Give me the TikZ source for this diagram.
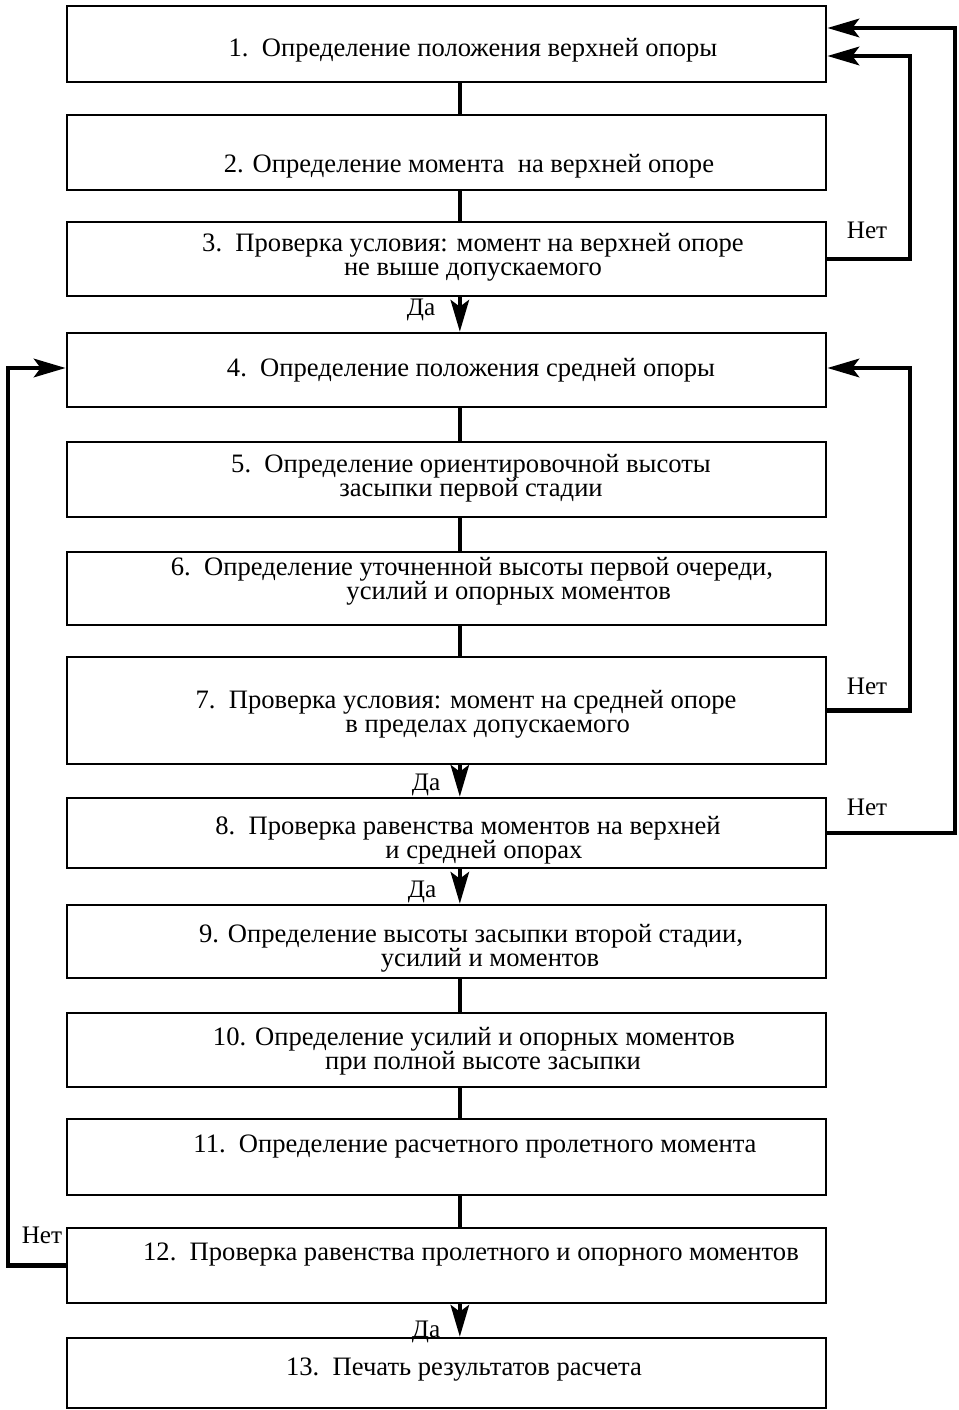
\documentclass[tikz,border=0pt]{standalone}
\usepackage{fontspec}
\setmainfont{Liberation Serif}
\usetikzlibrary{arrows.meta}

\begin{document}
\begin{tikzpicture}[line join=miter,x=0.03cm,y=-0.03cm,
  box/.style={draw,line width=2.2pt,minimum width=22.77cm,inner sep=0pt},
  txt/.style={font=\fontsize{22.7}{20.5}\selectfont,align=center,inner sep=0pt},
  lbl/.style={font=\fontsize{21.5}{20}\selectfont,inner sep=0pt},
  link/.style={line width=3.8pt},
  tip/.style={-{Stealth[length=0.95cm,width=0.55cm,inset=0.2cm]}},
  fb/.style={line width=4.2pt,tip}]
\useasboundingbox (0,0) rectangle (959,1410);
% boxes: number / top / bottom
\foreach \n/\t/\b in {1/6/82,2/115/190,3/222/296,4/333/407,5/442/517,6/552/625,
  7/657/764,8/798/868,9/905/978,10/1013/1087,11/1119/1195,12/1228/1303,13/1338/1408}
  \node[box,minimum height={(\b-\t)*0.03cm}] (b\n) at (446.5,{(\t+\b)/2}) {};
\node[txt] (t1) at (473,50) {1.~~Определение положения верхней опоры};
\node[txt] (t2) at (469,166) {2. Определение момента~~на верхней опоре};
\node[txt] (t3) at (473,257) {3.~~Проверка условия: момент на верхней опоре\\не выше допускаемого};
\node[txt] (t4) at (471,370) {4.~~Определение положения средней опоры};
\node[txt] (t5) at (471,478) {5.~~Определение ориентировочной высоты\\засыпки первой стадии};
\node[txt] (t6) at (472,581) {6.~~Определение уточненной высоты первой очереди,\\\hspace*{2.2cm}усилий и опорных моментов};
\node[txt] (t7) at (466,714) {7.~~Проверка условия: момент на средней опоре\\\hspace*{1.3cm}в пределах допускаемого};
\node[txt] (t8) at (468,840) {8.~~Проверка равенства моментов на верхней\\\hspace*{0.96cm}и средней опорах};
\node[txt] (t9) at (471,948) {9. Определение высоты засыпки второй стадии,\\\hspace*{1.14cm}усилий и моментов};
\node[txt] (t10) at (474,1051) {10. Определение усилий и опорных моментов\\\hspace*{0.54cm}при полной высоте засыпки};
\node[txt] (t11) at (475,1147) {11.~~Определение расчетного пролетного момента};
\node[txt] (t12) at (471,1255) {12.~~Проверка равенства пролетного и опорного моментов};
\node[txt] (t13) at (464,1370) {13.~~Печать результатов расчета};
% main line
\foreach \a/\b in {b1/b2,b2/b3,b4/b5,b5/b6,b6/b7,b9/b10,b10/b11,b11/b12}
  \draw[link] ([xshift=0.4cm]\a.south) -- ([xshift=0.4cm]\b.north);
\foreach \a/\b in {b3/b4,b7/b8,b8/b9,b12/b13}
  \draw[link,tip] ([xshift=0.4cm]\a.south) -- ([xshift=0.4cm]\b.north);
% feedback
\coordinate (r1) at (910,56);
\coordinate (r2) at (955,28);
\coordinate (r3) at (910,368);
\coordinate (l1) at (8,368);
\draw[fb] (b3.east) -| (r1) -- (r1 -| b1.east);
\draw[fb] (b8.east) -| (r2) -- (r2 -| b1.east);
\draw[fb] (b7.east) -| (r3) -- (r3 -| b4.east);
\draw[fb] (b12.west) -| (l1) -- (l1 -| b4.west);
% labels
\node[lbl] (n3) at (867,230) {Нет};
\node[lbl] (n7) at (867,686) {Нет};
\node[lbl] (n8) at (867,807) {Нет};
\node[lbl] (n12) at (42,1235) {Нет};
\node[lbl] (d3) at (421,310) {Да};
\node[lbl] (d7) at (426,785) {Да};
\node[lbl] (d8) at (422,892) {Да};
\node[lbl] (d12) at (426,1332) {Да};
\end{tikzpicture}
\end{document}
